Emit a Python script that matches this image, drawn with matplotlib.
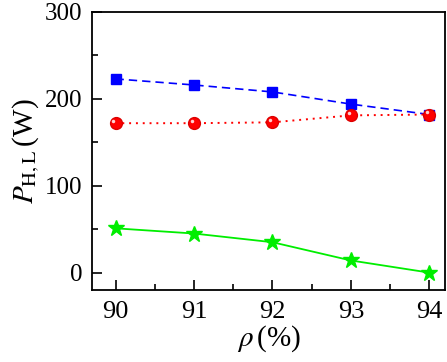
import matplotlib
matplotlib.use('Agg')
import matplotlib.pyplot as plt
from matplotlib.transforms import offset_copy

FONT = 'Liberation Serif'
plt.rcParams['font.family'] = [FONT, 'DejaVu Serif']
plt.rcParams['mathtext.fontset'] = 'stix'

rho = [90, 91, 92, 93, 94]
p_blue = [223, 216, 208, 194, 182]
p_red = [172, 172, 173, 181, 182]
p_green = [51, 45, 35, 14, 0]

fig = plt.figure(figsize=(4.47, 3.62), dpi=100)
ax = fig.add_axes([92 / 447, 1 - 290 / 362, 353 / 447, 278 / 362])

ax.plot(rho, p_blue, color='blue', ls=(0, (5, 3)), lw=1.2,
        marker='s', ms=7.5, mfc='blue', mec='blue')
ax.plot(rho, p_red, color='red', ls=(0, (1, 2.5)), lw=1.4,
        marker='o', ms=8.5, mfc='red', mec='#dd0000')
# small shine on the red balls
shine = offset_copy(ax.transData, fig=fig, x=-1.5, y=1.5, units='points')
ax.plot(rho, p_red, ls='none', marker='o', ms=2.5, mfc='#ffd0d0', mec='none',
        transform=shine)
ax.plot(rho, p_green, color='#00ee00', ls='-', lw=1.3,
        marker='*', ms=12, mfc='#00ee00', mec='#00ee00')

ax.set_xlim(89.7, 94.2)
ax.set_ylim(-20, 300)
ax.set_xticks(rho)
ax.set_xticks([90.5, 91.5, 92.5, 93.5], minor=True)
ax.set_yticks([0, 100, 200, 300])
ax.set_yticks([50, 150, 250], minor=True)
ax.tick_params(which='both', direction='in', width=1.2)
ax.tick_params(which='major', length=7)
ax.tick_params(which='minor', length=4)
ax.tick_params(axis='x', which='both', top=False, labelsize=19, pad=8)
ax.tick_params(axis='y', which='both', right=False, labelsize=18, pad=7)
for lab in ax.get_xticklabels() + ax.get_yticklabels():
    lab.set_fontfamily(FONT)
for s in ax.spines.values():
    s.set_linewidth(1.3)

ax.set_xlabel(r'$\rho\,$(%)', fontsize=21, labelpad=0, fontfamily=FONT)
ax.set_ylabel(r'$P_{\rm H,L}\,$(W)', fontsize=21, labelpad=2, fontfamily=FONT)

fig.savefig('out.png', dpi=100)
